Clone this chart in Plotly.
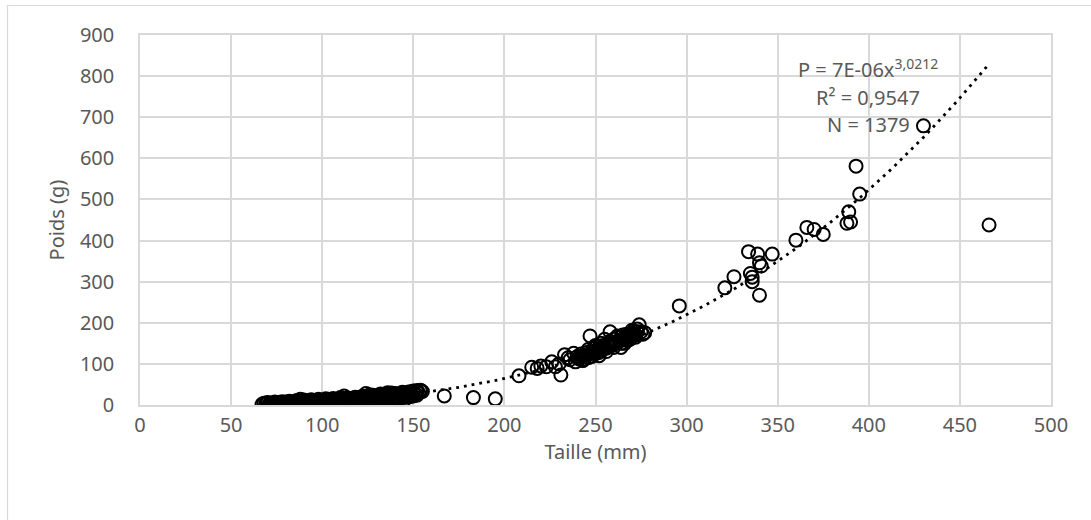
import numpy as np
import plotly.graph_objects as go

# ---- data ----
small_x_a = [67,69,71,73,75,77,79,81,83,85,87,89,91,93,95,97,99,101,103,105,107,109,111,113,115,117,119,121,123,125,127,129,131,133,135,137,139,141,143,145,147,149,151,153,155]
small_y_a = [2,3,3,3,3,3,4,4,4,5,5,5,6,6,7,7,7,8,8,9,9,10,10,11,11,12,13,13,14,15,15,16,17,18,18,19,20,21,22,23,24,25,27,29,33]
small_x_b = [70,74,78,82,86,88,90,94,98,102,106,110,112,114,118,122,124,126,128,132,134,136,138,140,144,146,148,150,152,154]
small_y_b = [6,7,8,9,11,14,12,13,14,15,16,18,22,17,19,21,28,25,24,27,26,30,29,28,31,30,32,34,35,36]
small_x_c = [72,76,80,84,88,92,96,100,104,108,112,116,120,124,128,132,136,140,144,148,152]
small_y_c = [0,1,1,1,2,2,3,3,4,5,6,7,8,9,11,12,14,16,18,20,24]
small_x_d = [68,70,72,74,76,78,80,82,84,86,88,90,92,94,96,98,100,102,104,106,108,110,112,114,116,118,120,122,124,126,128,130,132,134,136,138,140,142,144,146,148,150,152,154]
small_y_d = [4,5,5,5,6,6,7,7,7,8,8,9,9,10,10,11,11,12,12,13,13,14,15,15,16,17,18,19,20,20,21,22,23,24,25,26,27,27,28,29,30,31,32,34]
small_x_e = [74,78,82,86,90,94,98,102,106,110,114,118,122,126,130,134,138,142,146,150,128,134,140,145]
small_y_e = [1,2,2,3,3,4,4,5,6,7,8,9,10,11,12,13,15,17,19,22,6,8,9,12]

mid_x = [215,218,220,223,226,228,230,231,233,235,236,238,240,241,242,243,244,245,246,247,248,249,250,250,251,252,252,253,254,255,255,256,257,258,258,259,260,260,261,262,263,264,265,265,266,267,268,269,270,270,271,272,273,274,275,276,277]
mid_y = [92,89,95,93,105,93,100,73,122,115,110,126,118,112,124,108,120,128,115,168,130,138,125,145,132,140,120,150,135,142,160,130,148,178,155,145,160,140,150,165,155,140,170,158,150,172,165,160,175,168,180,170,185,195,178,172,176]
mid2_x = [239,241,243,245,247,249,251,253,255,257,259,261,263,265,267,269,271,273,244,248,252,256,260,264,268,272,246,250,254,258,262,266,270]
mid2_y = [105,115,118,122,125,128,135,138,140,145,150,152,158,160,163,168,172,178,112,118,128,138,148,150,158,165,135,140,145,150,168,165,182]

sparse_x = [167,183,195,208,296,321,326,334,335,336,336,339,340,341,340,347,360,366,370,375,388,389,390,393,395,430,466]
sparse_y = [22,18,15,71,241,285,312,373,320,311,300,367,346,338,267,367,401,432,427,415,442,470,445,581,513,679,438]

taille = small_x_a + small_x_b + small_x_c + small_x_d + small_x_e + mid_x + mid2_x + sparse_x
poids = small_y_a + small_y_b + small_y_c + small_y_d + small_y_e + mid_y + mid2_y + sparse_y

# power-law trendline coefficients (P = a * x^b)
coef_a = 7.2e-06
coef_b = 3.0212
eq_text = "P = 7E-06x<sup>3,0212</sup>"
r2_text = "R² = 0,9547"
n_text = "N = 1379"

x_ticks = list(range(0, 501, 50))
y_ticks = list(range(0, 901, 100))

trend_x = np.linspace(min(taille), max(taille), 300)
trend_y = coef_a * trend_x ** coef_b

FONT = "Noto Sans"
GRAY = "#595959"
GRID = "#d9d9d9"

fig = go.Figure()
fig.add_trace(go.Scatter(
    x=taille, y=poids, mode="markers",
    marker=dict(symbol="circle-open", size=13, color="black", line=dict(width=2)),
    hoverinfo="x+y", showlegend=False))
fig.add_trace(go.Scatter(
    x=trend_x, y=trend_y, mode="lines",
    line=dict(color="black", width=2.8, dash="2.8px,5px"),
    hoverinfo="skip", showlegend=False))

ann_font = dict(family=FONT, size=20, color=GRAY)
for t, ypx in zip([eq_text, r2_text, n_text], [68, 97, 124]):
    fig.add_annotation(
        x=(868 - 140) / 911, y=1 - (ypx - 35) / 370,
        xref="paper", yref="paper", text=t, showarrow=False,
        xanchor="center", yanchor="middle", font=ann_font)

# outer chart border
fig.add_shape(type="rect", xref="paper", yref="paper",
              x0=(7.5 - 140) / 911, x1=(1100 - 140) / 911,
              y0=-(530 - 405) / 370, y1=1 + (35 - 5.5) / 370,
              line=dict(color=GRID, width=1.2), fillcolor="rgba(0,0,0,0)", layer="below")

fig.update_layout(
    width=1091, height=520,
    margin=dict(l=140, r=40, t=35, b=115),
    paper_bgcolor="white", plot_bgcolor="white",
    font=dict(family=FONT, color=GRAY, size=20),
    xaxis=dict(range=[0, 500], tickvals=x_ticks, showgrid=True, gridcolor=GRID, gridwidth=1.5,
               zeroline=False, showline=True, linecolor=GRID, linewidth=1.5, mirror=True,
               ticks="", ticklabelstandoff=1,
               title=dict(text="Taille (mm)", font=dict(family=FONT, size=20, color=GRAY), standoff=0),
               tickfont=dict(family=FONT, size=20, color=GRAY)),
    yaxis=dict(range=[0, 900], tickvals=y_ticks, showgrid=True, gridcolor=GRID, gridwidth=1.5,
               zeroline=False, showline=True, linecolor=GRID, linewidth=1.5, mirror=True,
               ticks="", ticklabelstandoff=20,
               title=dict(text="Poids (g)", font=dict(family=FONT, size=20, color=GRAY), standoff=10),
               tickfont=dict(family=FONT, size=20, color=GRAY)),
)

fig.write_html("out.html")
